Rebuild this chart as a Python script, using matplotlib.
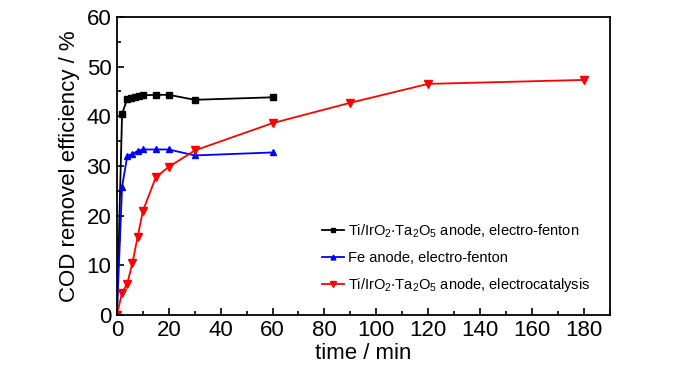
import matplotlib
matplotlib.use('Agg')
import matplotlib.pyplot as plt
from matplotlib.ticker import MultipleLocator

plt.rcParams['font.family'] = ['Liberation Sans', 'DejaVu Sans']
plt.rcParams['mathtext.default'] = 'regular'

# data
t_ti_ef = [0, 2, 4, 5.5, 7, 8.5, 10, 15, 20, 30, 60]
cod_ti_ef = [0, 40.5, 43.5, 43.7, 43.8, 44.0, 44.2, 44.3, 44.3, 43.3, 43.8]

t_fe_ef = [0, 2, 4, 6, 8, 10, 15, 20, 30, 60]
cod_fe_ef = [0, 25.8, 32.0, 32.4, 33.0, 33.3, 33.3, 33.3, 32.1, 32.7]

t_ti_ec = [0, 2, 4, 6, 8, 10, 15, 20, 30, 60, 90, 120, 180]
cod_ti_ec = [0, 4.5, 6.3, 10.5, 15.7, 20.9, 27.7, 29.8, 33.1, 38.6, 42.7, 46.5, 47.3]

labels = [r'Ti/IrO$_2$$\cdot$Ta$_2$O$_5$ anode, electro-fenton',
          'Fe anode, electro-fenton',
          r'Ti/IrO$_2$$\cdot$Ta$_2$O$_5$ anode, electrocatalysis']

fig = plt.figure(figsize=(7, 3.74), dpi=100)
ax = fig.add_axes([0.167, 0.158, 0.704, 0.797])

ax.plot(t_ti_ef, cod_ti_ef, color='black', marker='s', ms=4.5, lw=1.3, label=labels[0])
ax.plot(t_fe_ef, cod_fe_ef, color='blue', marker='^', ms=5, lw=1.3, label=labels[1])
ax.plot(t_ti_ec, cod_ti_ec, color='red', marker='v', ms=5.5, lw=1.3, label=labels[2])

ax.set_xlim(0, 190)
ax.set_ylim(0, 60)
ax.xaxis.set_major_locator(MultipleLocator(20))
ax.xaxis.set_minor_locator(MultipleLocator(10))
ax.yaxis.set_major_locator(MultipleLocator(10))
ax.yaxis.set_minor_locator(MultipleLocator(5))
ax.tick_params(which='both', direction='in', top=False, right=False, width=1.2)
ax.tick_params(which='major', length=5, labelsize=16, pad=4)
ax.tick_params(which='minor', length=3)
for s in ax.spines.values():
    s.set_linewidth(1.3)

ax.set_xlabel('time / min', fontsize=16, labelpad=1)
ax.set_ylabel('COD removel efficiency / %', fontsize=16, labelpad=5)

ax.legend(loc='lower left', bbox_to_anchor=(0.39, 0.025), frameon=False,
          fontsize=10.5, handlelength=1.5, handletextpad=0.3, labelspacing=0.78,
          markerscale=0.7)

fig.savefig('out.png', dpi=100)
